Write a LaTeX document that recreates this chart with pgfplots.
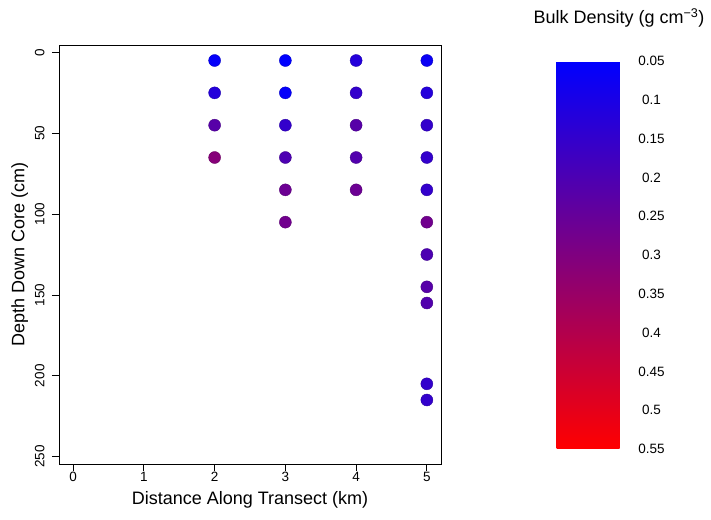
\documentclass[border=0pt]{standalone}
\usepackage{pgfplots}
\pgfplotsset{compat=1.18}
\usepackage{pgfplotstable}
\usepackage{fontspec}
\setmainfont{Liberation Sans}
\pgfplotstableread{
x y v
2 5 0.06
2 25 0.12
2 45 0.22
2 65 0.31
3 5 0.05
3 25 0.06
3 45 0.15
3 65 0.20
3 85 0.26
3 105 0.27
4 5 0.12
4 25 0.15
4 45 0.22
4 65 0.21
4 85 0.26
5 5 0.07
5 25 0.12
5 45 0.15
5 65 0.15
5 85 0.15
5 105 0.27
5 125 0.20
5 145 0.22
5 155 0.21
5 205 0.15
5 215 0.15
}\bulk
\pgfplotsset{
  /pgf/number format/assume math mode=true,
  tick label style={font=\fontsize{13.5}{13.5}\selectfont},
  label style={font=\fontsize{18}{20}\selectfont},
}
\begin{document}
\begin{tikzpicture}[x=1pt,y=1pt]
\useasboundingbox (0,0) rectangle (711,519);
\begin{axis}[
  at={(59pt,55pt)}, anchor=south west,
  scale only axis, width=382pt, height=419pt,
  xmin=-0.2, xmax=5.2, ymin=-4.6, ymax=254.6,
  y dir=reverse,
  xtick={0,1,2,3,4,5}, ytick={0,50,100,150,200,250},
  tick align=outside, major tick length=7pt,
  xtick pos=left, xticklabel pos=left,
  ytick pos=left, yticklabel pos=left,
  xticklabel style={yshift=2pt},
  yticklabel style={xshift=-4pt, rotate=90, anchor=south},
  xlabel={Distance Along Transect (km)},
  ylabel={Depth Down Core (cm)},
  xlabel style={yshift=-2pt},
  axis line style={black, line width=0.8pt},
  tick style={black, line width=0.8pt},
  colormap={br}{rgb255=(0,0,255) rgb255=(255,0,0)},
  point meta min=0.05, point meta max=0.55,
  colorbar,
  colorbar/width=63pt,
  colorbar style={
    at={(parent axis.north east)}, anchor=north west,
    xshift=107pt, yshift=-16pt,
    scale only axis, width=63pt, height=388pt,
    y dir=reverse,
    ytick={0.05,0.1,0.15,0.2,0.25,0.3,0.35,0.4,0.45,0.5,0.55},
    yticklabels={0.05,0.1,0.15,0.2,0.25,0.3,0.35,0.4,0.45,0.5,0.55},
    yticklabel style={anchor=center, xshift=32pt},
    major tick length=0pt,
    axis line style={draw=none},
    tick style={draw=none},
  },
]
\addplot[scatter, only marks, mark=*, mark size=6pt, scatter src=explicit]
  table[x=x, y=y, meta=v]{\bulk};
\end{axis}
\node at (619,501) {\fontsize{18}{20}\selectfont Bulk Density (g cm\textsuperscript{−3})};
\end{tikzpicture}
\end{document}
